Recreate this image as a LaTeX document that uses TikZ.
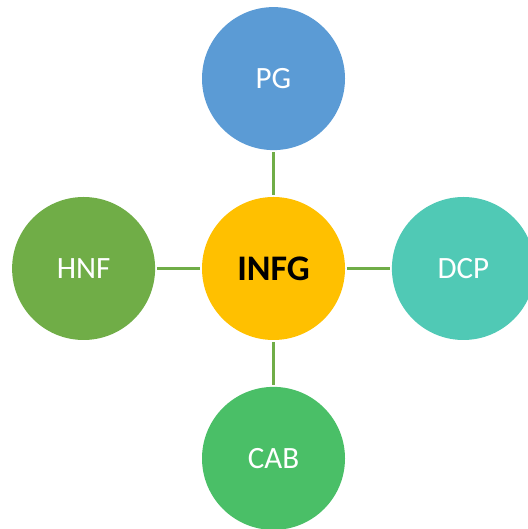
\documentclass[tikz,border=0pt]{standalone}
\usepackage{fontspec}
\setmainfont{Carlito}
\usetikzlibrary{positioning}
\definecolor{pgblue}{HTML}{5B9BD5}
\definecolor{infgyellow}{HTML}{FFC000}
\definecolor{dcpteal}{HTML}{50C9B5}
\definecolor{hnfgreen}{HTML}{70AD47}
\definecolor{cabgreen}{HTML}{4ABF67}

\begin{document}
\begin{tikzpicture}
        [x=1pt, y=1pt,
        node distance=46.5pt,
        % every circle shares the same size
        topic/.style={circle, minimum size=143pt, inner sep=0pt,
        text=white, font=\fontsize{31}{36}\selectfont},
        link/.style={draw=hnfgreen, line width=3pt, shorten >=2pt, shorten <=2pt}]
        \useasboundingbox (0,0) rectangle (527,529);
        \node [topic, fill=infgyellow, text=black,
        font=\fontsize{36}{42}\selectfont\bfseries] (infg) at (273.5,260.5) {INFG};
        \node [topic, fill=pgblue, above=of infg] (pg) {PG};
        \node [topic, fill=dcpteal, right=of infg] (dcp) {DCP};
        \node [topic, fill=hnfgreen, left=of infg] (hnf) {HNF};
        \node [topic, fill=cabgreen, below=of infg] (cab) {CAB};
        \draw [link] (infg) -- (pg);
        \draw [link] (infg) -- (dcp);
        \draw [link] (infg) -- (hnf);
        \draw [link] (infg) -- (cab);
        \end{tikzpicture}
\end{document}
